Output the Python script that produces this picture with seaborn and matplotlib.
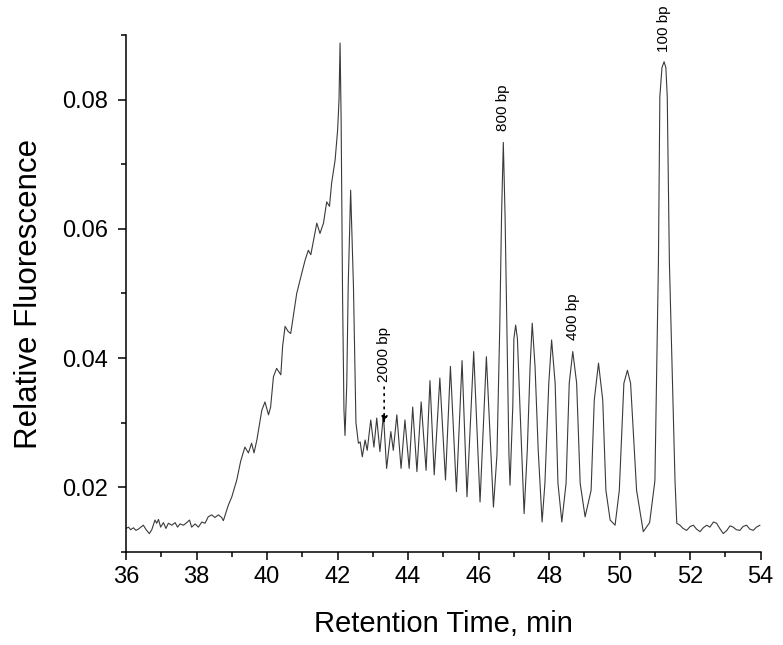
import matplotlib
matplotlib.use('Agg')
import matplotlib.pyplot as plt
from matplotlib.ticker import MultipleLocator, FormatStrFormatter
import pandas as pd
import seaborn as sns

# trace points (retention time in min, relative fluorescence)
baseline_t = [36.00, 36.07, 36.13, 36.21, 36.28, 36.35, 36.42, 36.49, 36.57, 36.66,
              36.73, 36.82, 36.87, 36.92, 36.98, 37.06, 37.13, 37.20, 37.30, 37.39,
              37.46, 37.53, 37.63, 37.72, 37.80, 37.86, 37.96, 38.05, 38.15, 38.24,
              38.33, 38.43, 38.52, 38.62, 38.71]
baseline_v = [0.0136, 0.0138, 0.0134, 0.0137, 0.0133, 0.0135, 0.0138, 0.0141, 0.0134, 0.0128,
              0.0134, 0.0149, 0.0144, 0.0150, 0.0138, 0.0145, 0.0136, 0.0144, 0.0141, 0.0145,
              0.0138, 0.0143, 0.0141, 0.0145, 0.0149, 0.0138, 0.0143, 0.0138, 0.0146, 0.0144,
              0.0154, 0.0157, 0.0153, 0.0157, 0.0153]

rise_t = [38.76, 38.90, 39.00, 39.14, 39.25, 39.37, 39.47, 39.56, 39.63, 39.71,
          39.85, 39.94, 40.04, 40.10, 40.18, 40.27, 40.39, 40.44, 40.51, 40.60,
          40.67, 40.74, 40.84, 40.93, 41.00, 41.08, 41.17, 41.24, 41.31, 41.41,
          41.50, 41.60, 41.69, 41.77, 41.83, 41.93, 42.00, 42.04]
rise_v = [0.0148, 0.0172, 0.0185, 0.0211, 0.0240, 0.0262, 0.0253, 0.0268, 0.0253, 0.0273,
          0.0319, 0.0332, 0.0312, 0.0324, 0.0371, 0.0384, 0.0374, 0.0418, 0.0449, 0.0441,
          0.0438, 0.0464, 0.0500, 0.0520, 0.0535, 0.0552, 0.0567, 0.0560, 0.0580, 0.0609,
          0.0593, 0.0609, 0.0642, 0.0635, 0.0671, 0.0707, 0.0753, 0.0800]

ladder_t = [42.07, 42.10, 42.14, 42.18, 42.21, 42.26, 42.30, 42.37, 42.45, 42.52,
            42.59, 42.64, 42.70, 42.78, 42.84, 42.94, 43.03, 43.11, 43.20, 43.30,
            43.39, 43.51, 43.58, 43.68, 43.80, 43.91, 44.03, 44.13, 44.25, 44.37,
            44.51, 44.62, 44.74, 44.90, 45.06, 45.20, 45.37, 45.53, 45.67, 45.86,
            46.04, 46.22, 46.42, 46.52, 46.60, 46.65, 46.70, 46.75, 46.80, 46.86,
            46.89, 46.97, 47.00, 47.05, 47.10, 47.17, 47.29, 47.38, 47.46, 47.52,
            47.60, 47.69, 47.80, 47.88, 47.99, 48.07, 48.17, 48.25, 48.36, 48.48,
            48.57, 48.67, 48.78, 48.88, 49.02, 49.19, 49.28, 49.40, 49.52, 49.61,
            49.73, 49.87, 49.99, 50.12, 50.22, 50.31, 50.48, 50.67, 50.85, 51.00,
            51.10, 51.14, 51.20, 51.26, 51.31, 51.35, 51.41, 51.57, 51.62]
ladder_v = [0.0888, 0.0769, 0.0500, 0.0320, 0.0280, 0.0360, 0.0510, 0.0660, 0.0510, 0.0300,
            0.0268, 0.0270, 0.0247, 0.0273, 0.0257, 0.0304, 0.0262, 0.0307, 0.0255, 0.0312,
            0.0229, 0.0286, 0.0257, 0.0312, 0.0229, 0.0304, 0.0229, 0.0324, 0.0224, 0.0332,
            0.0226, 0.0365, 0.0219, 0.0369, 0.0211, 0.0387, 0.0193, 0.0396, 0.0185, 0.0410,
            0.0177, 0.0402, 0.0169, 0.0250, 0.0450, 0.0620, 0.0734, 0.0620, 0.0450, 0.0250,
            0.0203, 0.0327, 0.0430, 0.0451, 0.0430, 0.0327, 0.0159, 0.0257, 0.0387, 0.0454,
            0.0387, 0.0257, 0.0146, 0.0206, 0.0361, 0.0428, 0.0361, 0.0206, 0.0146, 0.0206,
            0.0361, 0.0410, 0.0361, 0.0206, 0.0154, 0.0195, 0.0335, 0.0392, 0.0335, 0.0195,
            0.0149, 0.0141, 0.0195, 0.0361, 0.0381, 0.0361, 0.0195, 0.0131, 0.0145, 0.0210,
            0.0550, 0.0805, 0.0850, 0.0859, 0.0850, 0.0805, 0.0550, 0.0210, 0.0144]

tail_t = [51.71, 51.80, 51.90, 52.00, 52.09, 52.18, 52.28, 52.37, 52.47, 52.56,
          52.66, 52.75, 52.85, 52.94, 53.04, 53.13, 53.22, 53.31, 53.41, 53.50,
          53.60, 53.69, 53.79, 53.88, 53.98]
tail_v = [0.0141, 0.0136, 0.0133, 0.0139, 0.0141, 0.0135, 0.0131, 0.0137, 0.0141, 0.0138,
          0.0146, 0.0144, 0.0135, 0.0128, 0.0133, 0.0140, 0.0138, 0.0134, 0.0133, 0.0139,
          0.0141, 0.0135, 0.0133, 0.0138, 0.0141]

# fragment size labels: (text, time, value at bottom of label)
label_text = ['800 bp', '400 bp', '100 bp']
label_t = [46.70, 48.69, 51.26]
label_v = [0.0752, 0.0428, 0.0874]

df = pd.DataFrame({'time': baseline_t + rise_t + ladder_t + tail_t,
                   'fluor': baseline_v + rise_v + ladder_v + tail_v})

sns.set_style('ticks')
plt.rcParams['font.family'] = ['Liberation Sans', 'DejaVu Sans']
plt.rcParams['text.color'] = 'black'
plt.rcParams['axes.labelcolor'] = 'black'
plt.rcParams['xtick.color'] = 'black'
plt.rcParams['ytick.color'] = 'black'

fig, axis = plt.subplots(figsize=(7.83, 6.45), dpi=100)
fig.subplots_adjust(left=0.161, right=0.9715, bottom=0.1447, top=0.9453)

sns.lineplot(data=df, x='time', y='fluor', ax=axis, color='#3a3a3a', linewidth=0.8, sort=False)

for txt, t, v in zip(label_text, label_t, label_v):
    axis.text(t, v, txt, rotation=90, ha='center', va='bottom', fontsize=11)

axis.annotate('', xy=(43.32, 0.0299), xytext=(43.32, 0.0355),
              arrowprops=dict(arrowstyle='-|>', linestyle=(0, (1, 3)), color='black',
                              lw=1.2, mutation_scale=10, shrinkA=0, shrinkB=0))
axis.text(43.32, 0.0363, '2000 bp', rotation=90, ha='center', va='bottom', fontsize=11)

axis.set_xlim(36, 54)
axis.set_ylim(0.01, 0.09)
axis.xaxis.set_major_locator(MultipleLocator(2))
axis.xaxis.set_minor_locator(MultipleLocator(1))
axis.yaxis.set_major_locator(MultipleLocator(0.02))
axis.yaxis.set_minor_locator(MultipleLocator(0.01))
axis.yaxis.set_major_formatter(FormatStrFormatter('%.2f'))
axis.tick_params(which='major', direction='out', length=6, width=1.1, labelsize=17, color='black')
axis.tick_params(which='minor', direction='out', length=3.5, width=1.1, color='black')
axis.tick_params(axis='y', pad=7)
axis.tick_params(axis='x', pad=4)
for side in ['left', 'bottom']:
    axis.spines[side].set_linewidth(1.1)
    axis.spines[side].set_color('black')
sns.despine(ax=axis)

axis.set_xlabel('Retention Time, min', fontsize=21, labelpad=16)
axis.set_ylabel('Relative Fluorescence', fontsize=22.5, labelpad=13)

fig.savefig('out.png', dpi=100)
